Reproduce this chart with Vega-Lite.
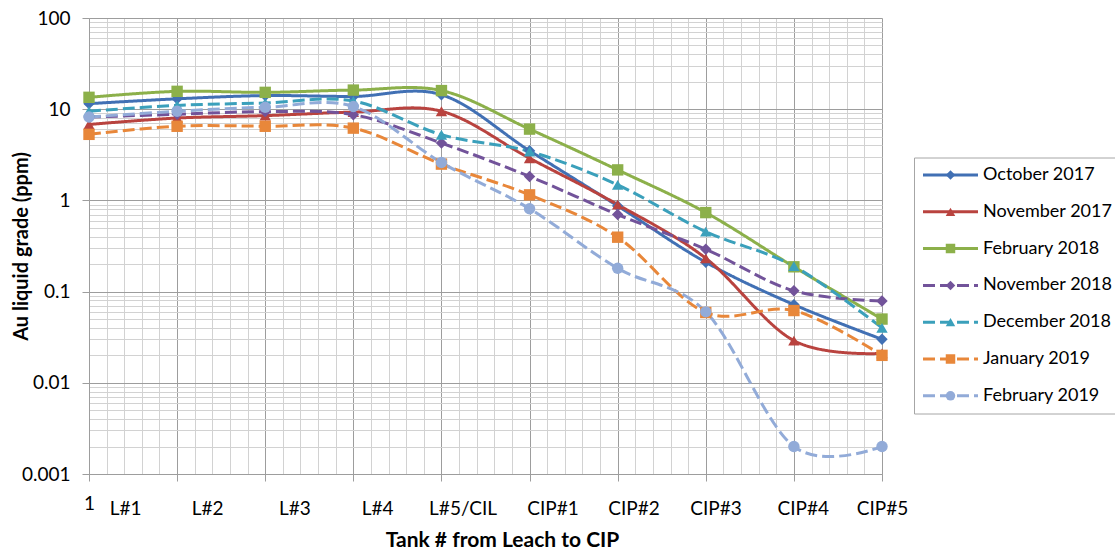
{
  "$schema": "https://vega.github.io/schema/vega-lite/v6.json",
  "width": 793,
  "height": 456,
  "autosize": {"type": "none"},
  "padding": {"left": 89, "top": 18, "right": 233, "bottom": 76},
  "background": "white",
  "config": {"font": "Lato", "view": {"stroke": null}},
  "data": {
    "values": [
      {"series": "October 2017", "tank": 1, "value": 11.5},
      {"series": "October 2017", "tank": 2, "value": 13.0},
      {"series": "October 2017", "tank": 3, "value": 14.1},
      {"series": "October 2017", "tank": 4, "value": 13.8},
      {"series": "October 2017", "tank": 5, "value": 14.4},
      {"series": "October 2017", "tank": 6, "value": 3.5},
      {"series": "October 2017", "tank": 7, "value": 0.87},
      {"series": "October 2017", "tank": 8, "value": 0.21},
      {"series": "October 2017", "tank": 9, "value": 0.072},
      {"series": "October 2017", "tank": 10, "value": 0.03},
      {"series": "November 2017", "tank": 1, "value": 6.8},
      {"series": "November 2017", "tank": 2, "value": 8.0},
      {"series": "November 2017", "tank": 3, "value": 8.5},
      {"series": "November 2017", "tank": 4, "value": 9.3},
      {"series": "November 2017", "tank": 5, "value": 9.5},
      {"series": "November 2017", "tank": 6, "value": 2.9},
      {"series": "November 2017", "tank": 7, "value": 0.9},
      {"series": "November 2017", "tank": 8, "value": 0.232},
      {"series": "November 2017", "tank": 9, "value": 0.029},
      {"series": "November 2017", "tank": 10, "value": 0.021},
      {"series": "February 2018", "tank": 1, "value": 13.5},
      {"series": "February 2018", "tank": 2, "value": 15.7},
      {"series": "February 2018", "tank": 3, "value": 15.3},
      {"series": "February 2018", "tank": 4, "value": 16.2},
      {"series": "February 2018", "tank": 5, "value": 16.0},
      {"series": "February 2018", "tank": 6, "value": 6.05},
      {"series": "February 2018", "tank": 7, "value": 2.16},
      {"series": "February 2018", "tank": 8, "value": 0.735},
      {"series": "February 2018", "tank": 9, "value": 0.187},
      {"series": "February 2018", "tank": 10, "value": 0.05},
      {"series": "November 2018", "tank": 1, "value": 8.2},
      {"series": "November 2018", "tank": 2, "value": 8.8},
      {"series": "November 2018", "tank": 3, "value": 9.4},
      {"series": "November 2018", "tank": 4, "value": 8.7},
      {"series": "November 2018", "tank": 5, "value": 4.25},
      {"series": "November 2018", "tank": 6, "value": 1.83},
      {"series": "November 2018", "tank": 7, "value": 0.7},
      {"series": "November 2018", "tank": 8, "value": 0.291},
      {"series": "November 2018", "tank": 9, "value": 0.102},
      {"series": "November 2018", "tank": 10, "value": 0.079},
      {"series": "December 2018", "tank": 1, "value": 9.5},
      {"series": "December 2018", "tank": 2, "value": 11.0},
      {"series": "December 2018", "tank": 3, "value": 11.7},
      {"series": "December 2018", "tank": 4, "value": 12.3},
      {"series": "December 2018", "tank": 5, "value": 5.25},
      {"series": "December 2018", "tank": 6, "value": 3.44},
      {"series": "December 2018", "tank": 7, "value": 1.48},
      {"series": "December 2018", "tank": 8, "value": 0.454},
      {"series": "December 2018", "tank": 9, "value": 0.19},
      {"series": "December 2018", "tank": 10, "value": 0.04},
      {"series": "January 2019", "tank": 1, "value": 5.3},
      {"series": "January 2019", "tank": 2, "value": 6.5},
      {"series": "January 2019", "tank": 3, "value": 6.5},
      {"series": "January 2019", "tank": 4, "value": 6.2},
      {"series": "January 2019", "tank": 5, "value": 2.5},
      {"series": "January 2019", "tank": 6, "value": 1.15},
      {"series": "January 2019", "tank": 7, "value": 0.395},
      {"series": "January 2019", "tank": 8, "value": 0.059},
      {"series": "January 2019", "tank": 9, "value": 0.062},
      {"series": "January 2019", "tank": 10, "value": 0.02},
      {"series": "February 2019", "tank": 1, "value": 8.2},
      {"series": "February 2019", "tank": 2, "value": 9.5},
      {"series": "February 2019", "tank": 3, "value": 10.5},
      {"series": "February 2019", "tank": 4, "value": 10.7},
      {"series": "February 2019", "tank": 5, "value": 2.6},
      {"series": "February 2019", "tank": 6, "value": 0.81},
      {"series": "February 2019", "tank": 7, "value": 0.18},
      {"series": "February 2019", "tank": 8, "value": 0.06},
      {"series": "February 2019", "tank": 9, "value": 0.002},
      {"series": "February 2019", "tank": 10, "value": 0.002}
    ]
  },
  "encoding": {
    "y": {
      "field": "value",
      "type": "quantitative",
      "scale": {"type": "log", "domain": [0.001, 100], "nice": false},
      "axis": {
        "values": [0.001, 0.002, 0.003, 0.004, 0.005, 0.006, 0.007, 0.008, 0.009, 0.01, 0.02, 0.03, 0.04, 0.05, 0.06, 0.07, 0.08, 0.09, 0.1, 0.2, 0.3, 0.4, 0.5, 0.6, 0.7, 0.8, 0.9, 1, 2, 3, 4, 5, 6, 7, 8, 9, 10, 20, 30, 40, 50, 60, 70, 80, 90, 100],
        "grid": true,
        "gridColor": {"condition": {"test": "abs(log(datum.value)/LN10 - round(log(datum.value)/LN10)) < 0.001", "value": "#9d9d9d"}, "value": "#d2d2d2"},
        "gridWidth": 1,
        "tickSize": 7,
        "tickColor": "#9d9d9d",
        "tickOpacity": {"condition": {"test": "abs(log(datum.value)/LN10 - round(log(datum.value)/LN10)) < 0.001", "value": 1}, "value": 0},
        "domainColor": "#9d9d9d",
        "labelExpr": "abs(log(datum.value)/LN10 - round(log(datum.value)/LN10)) < 0.001 ? toString(datum.value) : ''",
        "labelFontSize": 19,
        "labelColor": "#000000",
        "labelPadding": 12,
        "labelFlush": false,
        "labelOverlap": false,
        "title": "Au liquid grade (ppm)",
        "titleFontSize": 20,
        "titleFontWeight": "bold",
        "titleColor": "#000000",
        "titleX": -62,
        "titleY": 228,
        "titleAngle": 270,
        "titleAlign": "center",
        "titleBaseline": "alphabetic"
      }
    }
  },
  "layer": [
    {
      "mark": {"type": "line", "interpolate": "cardinal", "strokeWidth": 3},
      "encoding": {
        "x": {
          "field": "tank",
          "type": "quantitative",
          "scale": {"domain": [1, 10], "nice": false, "zero": false},
          "axis": {
            "orient": "bottom",
            "values": [1, 1.2, 1.4, 1.6, 1.8, 2, 2.2, 2.4, 2.6, 2.8, 3, 3.2, 3.4, 3.6, 3.8, 4, 4.2, 4.4, 4.6, 4.8, 5, 5.2, 5.4, 5.6, 5.8, 6, 6.2, 6.4, 6.6, 6.8, 7, 7.2, 7.4, 7.6, 7.8, 8, 8.2, 8.4, 8.6, 8.8, 9, 9.2, 9.4, 9.6, 9.8, 10],
            "grid": true,
            "gridColor": {"condition": {"test": "abs(datum.value - round(datum.value)) < 0.01", "value": "#9d9d9d"}, "value": "#d2d2d2"},
            "gridWidth": 1,
            "ticks": true,
            "tickSize": 7,
            "tickColor": "#9d9d9d",
            "tickOpacity": {"condition": {"test": "abs(datum.value - round(datum.value)) < 0.01", "value": 1}, "value": 0},
            "domain": true,
            "domainColor": "#9d9d9d",
            "labelExpr": "datum.value == 1 ? '1' : ''",
            "labelFontSize": 19,
            "labelColor": "#000000",
            "labelPadding": 13,
            "labelBaseline": "top",
            "labelFlush": false,
            "labelOverlap": false,
            "title": null
          }
        },
        "color": {
          "field": "series",
          "type": "nominal",
          "scale": {
            "domain": ["October 2017", "November 2017", "February 2018", "November 2018", "December 2018", "January 2019", "February 2019"],
            "range": ["#4170B4", "#B9433F", "#8CB04A", "#72539A", "#3BA0BB", "#E8873A", "#92ABD8"]
          },
          "legend": {
            "orient": "none",
            "legendX": 825,
            "legendY": 139.5,
            "title": null,
            "labelFontSize": 18,
            "labelColor": "#000000",
            "labelOffset": 3.5,
            "labelLimit": 300,
            "padding": 7.5,
            "rowPadding": 16.8,
            "clipHeight": 20,
            "strokeColor": "#a6a6a6",
            "fillColor": "white",
            "symbolType": "stroke",
            "symbolSize": 3025,
            "symbolStrokeWidth": 3,
            "symbolOpacity": 1
          }
        },
        "strokeDash": {
          "field": "series",
          "type": "nominal",
          "scale": {
            "domain": ["October 2017", "November 2017", "February 2018", "November 2018", "December 2018", "January 2019", "February 2019"],
            "range": [[1, 0], [1, 0], [1, 0], [12, 5], [12, 5], [12, 5], [12, 5]]
          }
        },
        "order": {"field": "tank"}
      }
    },
    {
      "mark": {"type": "point", "filled": true, "size": 130, "opacity": 1},
      "encoding": {
        "x": {
          "field": "tank",
          "type": "quantitative",
          "axis": {
            "orient": "bottom",
            "values": [1.41, 2.34, 3.33, 4.27, 5.24, 6.26, 7.18, 8.11, 9.1, 10],
            "grid": false,
            "ticks": false,
            "domain": false,
            "labelExpr": "datum.value < 2 ? 'L#1' : datum.value < 3 ? 'L#2' : datum.value < 4 ? 'L#3' : datum.value < 5 ? 'L#4' : datum.value < 6 ? 'L#5/CIL' : datum.value < 7 ? 'CIP#1' : datum.value < 8 ? 'CIP#2' : datum.value < 9 ? 'CIP#3' : datum.value < 9.5 ? 'CIP#4' : 'CIP#5'",
            "labelFontSize": 19,
            "labelColor": "#000000",
            "labelPadding": 25,
            "labelBaseline": "top",
            "labelFlush": false,
            "labelOverlap": false,
            "title": "Tank # from Leach to CIP",
            "titleFontSize": 21,
            "titleFontWeight": "bold",
            "titleColor": "#000000",
            "titleX": 413,
            "titleY": 72,
            "titleAlign": "center",
            "titleBaseline": "alphabetic"
          }
        },
        "fill": {
          "field": "series",
          "type": "nominal",
          "scale": {
            "domain": ["February 2019", "January 2019", "December 2018", "November 2018", "February 2018", "November 2017", "October 2017"],
            "range": ["#92ABD8", "#E8873A", "#3BA0BB", "#72539A", "#8CB04A", "#B9433F", "#4170B4"]
          },
          "legend": {
            "orient": "none",
            "legendX": 825,
            "legendY": 139.5,
            "title": null,
            "values": ["October 2017", "November 2017", "February 2018", "November 2018", "December 2018", "January 2019", "February 2019"],
            "labelFontSize": 18,
            "labelExpr": "''",
            "labelOffset": 3.5,
            "padding": 7.5,
            "rowPadding": 16.8,
            "clipHeight": 20,
            "symbolSize": 90,
            "symbolStrokeWidth": 0,
            "symbolOffset": 20,
            "symbolOpacity": 1,
            "strokeColor": null,
            "fillColor": null
          }
        },
        "shape": {
          "field": "series",
          "type": "nominal",
          "scale": {
            "domain": ["February 2019", "January 2019", "December 2018", "November 2018", "February 2018", "November 2017", "October 2017"],
            "range": ["circle", "square", "triangle-up", "diamond", "square", "triangle-up", "diamond"]
          },
          "legend": {
            "orient": "none",
            "legendX": 825,
            "legendY": 139.5,
            "title": null,
            "values": ["October 2017", "November 2017", "February 2018", "November 2018", "December 2018", "January 2019", "February 2019"],
            "labelFontSize": 18,
            "labelExpr": "''",
            "labelOffset": 3.5,
            "padding": 7.5,
            "rowPadding": 16.8,
            "clipHeight": 20,
            "symbolSize": 90,
            "symbolStrokeWidth": 0,
            "symbolOffset": 20,
            "symbolOpacity": 1,
            "strokeColor": null,
            "fillColor": null
          }
        }
      }
    }
  ],
  "resolve": {"axis": {"x": "independent"}}
}
